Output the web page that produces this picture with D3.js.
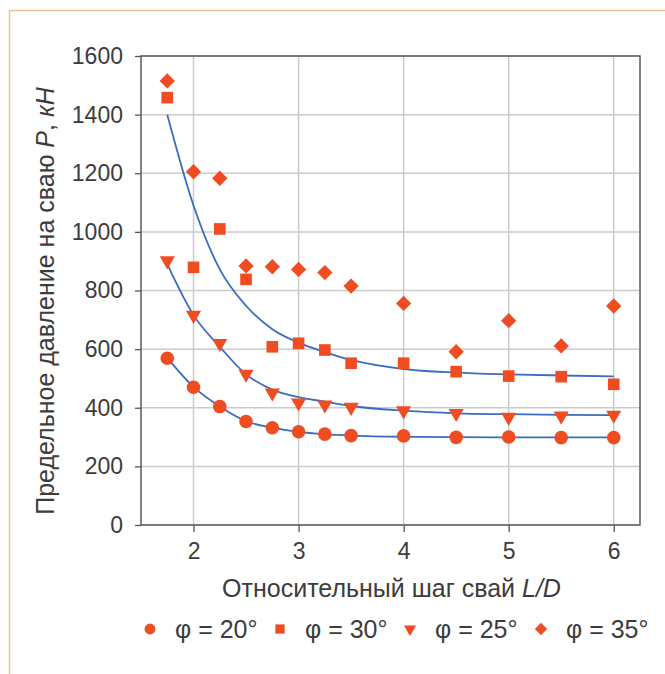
<!DOCTYPE html>
<html>
<head>
<meta charset="utf-8">
<script src="https://cdn.jsdelivr.net/npm/d3@7"></script>
<style>
  body { margin: 0; background: #fff; }
  svg { display: block; font-family: "Liberation Sans", Arial, sans-serif; }
</style>
</head>
<body>
<div id="chart"></div>
<script>

// relative pile spacing L/D
var steps = [1.75, 2, 2.25, 2.5, 2.75, 3, 3.25, 3.5, 4, 4.5, 5, 5.5, 6];

// measured limit pressure, kN
var phi20 = [569, 470, 404, 353, 332, 318, 310, 305, 304, 299, 300, 298, 298];
var phi25 = [902, 716, 620, 515, 451, 417, 410, 402, 390, 381, 368, 372, 375];
var phi30 = [1458, 879, 1010, 838, 608, 620, 597, 552, 552, 523, 508, 506, 480];
var phi35 = [1515, 1205, 1183, 884, 881, 872, 861, 815, 756, 591, 697, 611, 747];

// fitted trend curves
var trend20 = [570, 471, 404, 354, 332, 318, 310, 305, 301, 300, 299, 299, 299];
var trend25 = [890, 716, 608, 514, 462, 436, 421, 406, 390, 381, 378, 376, 375];
var trend30 = [1400, 1090, 872, 748, 668, 622, 590, 563, 532, 520, 514, 510, 507];

var xTicks = [2, 3, 4, 5, 6];
var yTicks = [0, 200, 400, 600, 800, 1000, 1200, 1400, 1600];

var legendItems = [
    {label: "φ = 20°", shape: "circle"},
    {label: "φ = 30°", shape: "square"},
    {label: "φ = 25°", shape: "triangle"},
    {label: "φ = 35°", shape: "diamond"}
];

var series = [
    {values: phi20, shape: "circle"},
    {values: phi30, shape: "square"},
    {values: phi25, shape: "triangle"},
    {values: phi35, shape: "diamond"}
];

var markColor = "#f04c22";
var lineColor = "#3b6cc0";
var textColor = "#3c3c3c";

var W = 665, H = 674;
var pLeft = 141, pRight = 640, pTop = 56, pBottom = 525;

var svg = d3.select("#chart").append("svg").attr("width", W).attr("height", H);

// outer frame
svg.append("path")
    .attr("d", "M9.5," + H + "V10.5H" + W)
    .attr("fill", "none").attr("stroke", "#e8c693").attr("stroke-width", 1.5);

var x = d3.scaleLinear().domain([1.5, 6.25]).range([pLeft, pRight]);
var y = d3.scaleLinear().domain([0, 1600]).range([pBottom, pTop]);

// grid
svg.append("g").selectAll("line").data(xTicks).enter().append("line")
    .attr("x1", function (d) { return x(d); }).attr("x2", function (d) { return x(d); })
    .attr("y1", pTop).attr("y2", pBottom)
    .attr("stroke", "#cbcbcb").attr("stroke-width", 1.5);
svg.append("g").selectAll("line").data(yTicks).enter().append("line")
    .attr("x1", pLeft).attr("x2", pRight)
    .attr("y1", function (d) { return y(d); }).attr("y2", function (d) { return y(d); })
    .attr("stroke", "#cbcbcb").attr("stroke-width", 1.5);

// axes
var xAxis = svg.append("g").attr("transform", "translate(0," + pBottom + ")")
    .call(d3.axisBottom(x).tickValues(xTicks).tickFormat(d3.format("d"))
        .tickSize(7).tickPadding(9).tickSizeOuter(0));
var yAxis = svg.append("g").attr("transform", "translate(" + pLeft + ",0)")
    .call(d3.axisLeft(y).tickValues(yTicks).tickFormat(d3.format("d"))
        .tickSize(6).tickPadding(12).tickSizeOuter(0));
[xAxis, yAxis].forEach(function (a) {
    a.select(".domain").remove();
    a.selectAll("line").attr("stroke", "#555").attr("stroke-width", 1.3);
    a.selectAll("text").attr("fill", textColor).style("font-size", "23px")
        .style("font-family", "'Liberation Sans', Arial, sans-serif");
});
xAxis.selectAll("text").attr("dy", "0.8em");

// plot border
svg.append("rect").attr("x", pLeft).attr("y", pTop)
    .attr("width", pRight - pLeft).attr("height", pBottom - pTop)
    .attr("fill", "none").attr("stroke", "#5a5a5a").attr("stroke-width", 1.5);

// trend curves
var line = d3.line()
    .x(function (d, i) { return x(steps[i]); })
    .y(function (d) { return y(d); })
    .curve(d3.curveMonotoneX);
[trend20, trend25, trend30].forEach(function (t) {
    svg.append("path").attr("d", line(t))
        .attr("fill", "none").attr("stroke", lineColor).attr("stroke-width", 1.8);
});

function symbolFor(shape, big) {
    var s = big ? 1 : 0.8;
    if (shape == "circle") return d3.symbol(d3.symbolCircle, 145 * s * s)();
    if (shape == "square") return d3.symbol(d3.symbolSquare, 135 * s * s)();
    if (shape == "diamond") return d3.symbol(d3.symbolSquare, 118 * s * s)();
    return d3.symbol(d3.symbolTriangle, 100 * s * s)();
}
function rot(shape) {
    if (shape == "diamond") return " rotate(45)";
    if (shape == "triangle") return " rotate(180)";
    return "";
}

// markers
series.forEach(function (s) {
    svg.append("g").selectAll("path").data(s.values).enter().append("path")
        .attr("d", symbolFor(s.shape, true))
        .attr("transform", function (d, i) {
            return "translate(" + x(steps[i]) + "," + y(d) + ")" + rot(s.shape);
        })
        .attr("fill", markColor);
});

// axis titles
svg.append("text").attr("x", (pLeft + pRight) / 2 + 1).attr("y", 597)
    .attr("text-anchor", "middle").attr("fill", textColor).style("font-size", "25px")
    .text("Относительный шаг свай ")
    .append("tspan").style("font-style", "italic").text("L/D");

var yt = svg.append("text").attr("transform", "translate(54," + 301 + ") rotate(-90)")
    .attr("text-anchor", "middle").attr("fill", textColor).style("font-size", "25px");
yt.append("tspan").text("Предельное давление на сваю ");
yt.append("tspan").style("font-style", "italic").text("P");
yt.append("tspan").text(", ");
yt.append("tspan").style("font-style", "italic").text("кН");

// legend
var legendX = [150, 280, 410, 541];
var lg = svg.append("g").selectAll("g").data(legendItems).enter().append("g")
    .attr("transform", function (d, i) { return "translate(" + legendX[i] + ",629)"; });
lg.append("path")
    .attr("d", function (d) { return symbolFor(d.shape, false); })
    .attr("transform", function (d) { return rot(d.shape); })
    .attr("fill", markColor);
lg.append("text").attr("x", 25).attr("y", 9)
    .attr("fill", textColor).style("font-size", "25px")
    .text(function (d) { return d.label; });

</script>
</body>
</html>
